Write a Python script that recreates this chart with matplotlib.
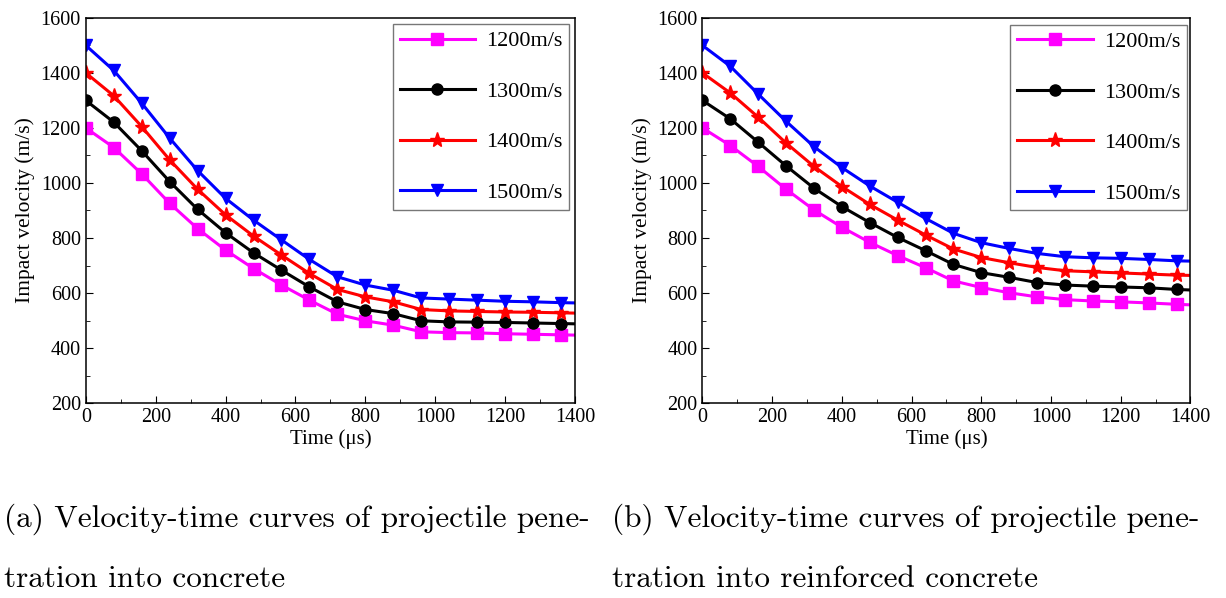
import numpy as np
import matplotlib
matplotlib.use("Agg")
import matplotlib.pyplot as plt
from matplotlib.ticker import MultipleLocator

plt.rcParams["font.family"] = ["Liberation Serif", "DejaVu Serif"]
plt.rcParams["mathtext.fontset"] = "stix"

# time points (µs): markers every 80 µs, curve runs to 1400
time_us = [0, 80, 160, 240, 320, 400, 480, 560, 640, 720, 800, 880, 960,
           1040, 1120, 1200, 1280, 1360, 1400]

labels = ["1200m/s", "1300m/s", "1400m/s", "1500m/s"]
colors = ["#FF00FF", "#000000", "#FF0000", "#0000FF"]
markers = ["s", "o", "*", "v"]

# (a) concrete
conc_1200 = [1200, 1129, 1033, 926, 834, 756, 689, 629, 574, 523, 499, 483, 459,
             456, 455, 452, 450, 448, 447]
conc_1300 = [1300, 1221, 1117, 1005, 904, 819, 746, 683, 622, 568, 540, 525, 499,
             495, 494, 493, 491, 489, 488]
conc_1400 = [1400, 1317, 1205, 1084, 977, 884, 807, 738, 671, 613, 586, 568, 540,
             535, 533, 531, 530, 528, 527]
conc_1500 = [1500, 1409, 1290, 1163, 1045, 944, 865, 793, 722, 659, 629, 610, 582,
             578, 574, 570, 568, 565, 564]

# (b) reinforced concrete
rc_1200 = [1200, 1136, 1060, 977, 902, 839, 784, 736, 692, 644, 620, 601, 586,
           576, 571, 568, 564, 559, 557]
rc_1300 = [1300, 1233, 1148, 1062, 981, 914, 856, 802, 754, 704, 674, 657, 638,
           629, 625, 622, 619, 613, 611]
rc_1400 = [1400, 1327, 1239, 1145, 1060, 987, 922, 865, 811, 760, 729, 710, 693,
           681, 677, 673, 669, 665, 664]
rc_1500 = [1500, 1424, 1323, 1224, 1132, 1056, 989, 930, 871, 817, 783, 762, 744,
           732, 728, 726, 722, 717, 716]

captions = ["(a) Velocity-time curves of projectile pene-\ntration into concrete",
            "(b) Velocity-time curves of projectile pene-\ntration into reinforced concrete"]

panels = [[conc_1200, conc_1300, conc_1400, conc_1500],
          [rc_1200, rc_1300, rc_1400, rc_1500]]

fig = plt.figure(figsize=(12.26, 5.98), dpi=100)
ax_boxes = [[0.070, 0.326, 0.399, 0.644], [0.573, 0.326, 0.398, 0.644]]
leg_boxes = [(0.628, 0.984), (0.631, 0.982)]
cap_x = [0.003, 0.499]

for k, (box, series) in enumerate(zip(ax_boxes, panels)):
    ax = fig.add_axes(box)
    n = len(time_us) - 1
    for vals, lab, col, mk in zip(series, labels, colors, markers):
        ms = 11 if mk == "*" else 8
        ax.plot(time_us, vals, color=col, lw=2.2, marker=mk, ms=ms,
                markevery=list(range(n)), label=lab)
    ax.set_xlim(0, 1400)
    ax.set_ylim(200, 1600)
    ax.xaxis.set_major_locator(MultipleLocator(200))
    ax.xaxis.set_minor_locator(MultipleLocator(100))
    ax.yaxis.set_major_locator(MultipleLocator(200))
    ax.yaxis.set_minor_locator(MultipleLocator(100))
    ax.tick_params(which="both", direction="in", labelsize=14.5)
    ax.tick_params(which="major", length=5)
    ax.tick_params(which="minor", length=3)
    for sp in ax.spines.values():
        sp.set_linewidth(1.1)
    ax.set_xlabel("Time (\u03bcs)", fontsize=15, labelpad=2)
    ax.set_ylabel("Impact velocity (m/s)", fontsize=15.5, labelpad=4)
    leg = ax.legend(loc="upper left", bbox_to_anchor=leg_boxes[k], fontsize=16,
                    fancybox=False, edgecolor="#777777", framealpha=1,
                    labelspacing=1.35, handlelength=3.4, borderpad=0.3,
                    handletextpad=0.5, borderaxespad=0)
    leg.get_frame().set_linewidth(1.0)
    fig.text(cap_x[k], 0.158, captions[k],
             fontsize=22.5, family="cmr10", va="top", ha="left", linespacing=2.35)

fig.savefig("out.png", dpi=100)
